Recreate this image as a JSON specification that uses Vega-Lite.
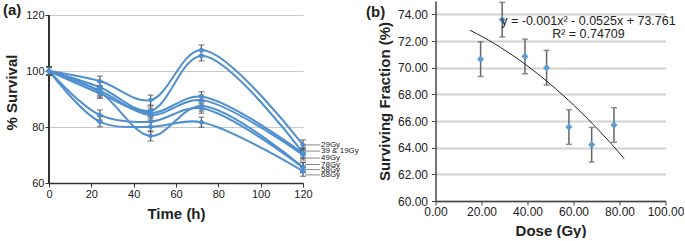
{
  "$schema": "https://vega.github.io/schema/vega-lite/v6.json",
  "background": "white",
  "padding": {"left": 3, "top": 1, "right": 0, "bottom": 0},
  "bounds": "flush",
  "spacing": 132.5,
  "config": {
    "font": "Liberation Sans",
    "view": {"stroke": null},
    "axis": {"labelFont": "Liberation Sans", "titleFont": "Liberation Sans", "labelColor": "#222", "titleColor": "#222", "titleFontWeight": "bold", "labelFlush": false, "labelOverlap": false}
  },
  "datasets": {
    "surv": [
      {"series": "29Gy", "time": 0, "value": 100, "err": 1.5},
      {"series": "29Gy", "time": 24, "value": 96.4, "err": 1.8},
      {"series": "29Gy", "time": 48, "value": 89.6, "err": 1.8},
      {"series": "29Gy", "time": 72, "value": 107.5, "err": 1.8},
      {"series": "29Gy", "time": 120, "value": 73.6, "err": 1.8},
      {"series": "39Gy", "time": 0, "value": 100, "err": 1.5},
      {"series": "39Gy", "time": 24, "value": 94.2, "err": 1.8},
      {"series": "39Gy", "time": 48, "value": 85.8, "err": 1.8},
      {"series": "39Gy", "time": 72, "value": 105.4, "err": 1.8},
      {"series": "39Gy", "time": 120, "value": 70.8, "err": 1.8},
      {"series": "19Gy", "time": 0, "value": 100, "err": 1.5},
      {"series": "19Gy", "time": 24, "value": 92.0, "err": 1.8},
      {"series": "19Gy", "time": 48, "value": 85.0, "err": 1.8},
      {"series": "19Gy", "time": 72, "value": 90.8, "err": 1.8},
      {"series": "19Gy", "time": 120, "value": 70.6, "err": 1.8},
      {"series": "49Gy", "time": 0, "value": 100, "err": 1.5},
      {"series": "49Gy", "time": 24, "value": 93.0, "err": 1.8},
      {"series": "49Gy", "time": 48, "value": 84.3, "err": 1.8},
      {"series": "49Gy", "time": 72, "value": 89.6, "err": 1.8},
      {"series": "49Gy", "time": 120, "value": 70.0, "err": 1.8},
      {"series": "78Gy", "time": 0, "value": 100, "err": 1.5},
      {"series": "78Gy", "time": 24, "value": 92.5, "err": 1.8},
      {"series": "78Gy", "time": 48, "value": 76.8, "err": 1.8},
      {"series": "78Gy", "time": 72, "value": 87.5, "err": 1.8},
      {"series": "78Gy", "time": 120, "value": 65.6, "err": 1.8},
      {"series": "58Gy", "time": 0, "value": 100, "err": 1.5},
      {"series": "58Gy", "time": 24, "value": 84.3, "err": 1.8},
      {"series": "58Gy", "time": 48, "value": 81.9, "err": 1.8},
      {"series": "58Gy", "time": 72, "value": 86.7, "err": 1.8},
      {"series": "58Gy", "time": 120, "value": 65.5, "err": 1.8},
      {"series": "68Gy", "time": 0, "value": 100, "err": 1.5},
      {"series": "68Gy", "time": 24, "value": 81.9, "err": 1.8},
      {"series": "68Gy", "time": 48, "value": 80.1, "err": 1.8},
      {"series": "68Gy", "time": 72, "value": 81.7, "err": 1.8},
      {"series": "68Gy", "time": 120, "value": 64.2, "err": 1.8}
    ],
    "labels": [
      {"label": "29Gy", "lx": 120, "ly": 73.6},
      {"label": "39 & 19Gy", "lx": 120, "ly": 71.4},
      {"label": "49Gy", "lx": 120, "ly": 68.9},
      {"label": "78Gy", "lx": 120, "ly": 66.6},
      {"label": "58Gy", "lx": 120, "ly": 64.8},
      {"label": "68Gy", "lx": 120, "ly": 62.9}
    ],
    "sf": [
      {"dose": 19.6, "sf": 70.64, "err": 1.3},
      {"dose": 29.0, "sf": 73.6, "err": 1.3},
      {"dose": 38.9, "sf": 70.84, "err": 1.3},
      {"dose": 48.3, "sf": 70.0, "err": 1.3},
      {"dose": 58.0, "sf": 65.55, "err": 1.3},
      {"dose": 67.9, "sf": 64.22, "err": 1.3},
      {"dose": 77.6, "sf": 65.7, "err": 1.3}
    ]
  },
  "hconcat": [
    {
      "width": 254,
      "height": 182,
      "data": {"name": "surv"},
      "encoding": {
        "x": {"field": "time", "type": "quantitative",
          "scale": {"domain": [0, 120], "nice": false, "zero": false},
          "axis": {"title": "Time (h)", "values": [0, 20, 40, 60, 80, 100, 120], "grid": false, "domainColor": "#333", "domainWidth": 1.5, "tickColor": "#333", "tickSize": 4, "labelPadding": 1, "labelFontSize": 11, "titleFontSize": 15, "titlePadding": 7}},
        "y": {"field": "value", "type": "quantitative",
          "scale": {"domain": [60, 125], "nice": false, "zero": false},
          "axis": {"title": "% Survival", "values": [60, 80, 100, 120], "grid": true, "gridColor": "#c8c8c8", "domain": false, "tickColor": "#333", "tickSize": 4, "labelPadding": 1, "labelFontSize": 11, "titleFontSize": 15, "titlePadding": 6}}
      },
      "layer": [
        {
          "mark": {"type": "rule", "color": "#333", "strokeWidth": 1.5},
          "encoding": {"x": {"datum": 0}, "y": {"datum": 60}, "y2": {"datum": 120}}
        },
        {
          "mark": {"type": "line", "interpolate": "catmull-rom", "strokeWidth": 2, "color": "#4f8fcf"},
          "encoding": {"detail": {"field": "series"}}
        },
        {
          "mark": {"type": "errorbar", "ticks": true, "color": "#555", "size": 6, "thickness": 1.2},
          "encoding": {"yError": {"field": "err"}}
        },
        {
          "mark": {"type": "point", "shape": "diamond", "filled": true, "size": 40, "color": "#4f8fcf", "opacity": 1}
        },
        {
          "data": {"name": "labels"},
          "mark": {"type": "rule", "color": "#888", "strokeWidth": 1, "xOffset": 2, "x2Offset": 17},
          "encoding": {"x": {"field": "lx", "type": "quantitative"}, "x2": {"field": "lx"}, "y": {"field": "ly", "type": "quantitative"}}
        },
        {
          "data": {"name": "labels"},
          "mark": {"type": "text", "align": "left", "baseline": "middle", "fontSize": 8, "color": "#222", "dx": 18},
          "encoding": {"x": {"field": "lx", "type": "quantitative"}, "y": {"field": "ly", "type": "quantitative"}, "text": {"field": "label"}}
        },
        {
          "data": {"values": [{"t": "(a)", "ax": 0, "ay": 121.8}]},
          "mark": {"type": "text", "align": "left", "baseline": "middle", "fontSize": 15, "fontWeight": "bold", "color": "#222", "dx": -46},
          "encoding": {"x": {"field": "ax", "type": "quantitative"}, "y": {"field": "ay", "type": "quantitative"}, "text": {"field": "t"}}
        }
      ]
    },
    {
      "width": 230,
      "height": 200,
      "data": {"name": "sf"},
      "encoding": {
        "x": {"field": "dose", "type": "quantitative",
          "scale": {"domain": [0, 100], "nice": false, "zero": false},
          "axis": {"title": "Dose (Gy)", "values": [0, 20, 40, 60, 80, 100], "format": ".2f", "grid": false, "domainColor": "#444", "domainWidth": 1.5, "tickColor": "#444", "tickSize": 4, "labelPadding": 1, "labelFontSize": 12, "titleFontSize": 15, "titlePadding": 6}},
        "y": {"field": "sf", "type": "quantitative",
          "scale": {"domain": [60, 75], "nice": false, "zero": false},
          "axis": {"title": "Surviving Fraction (%)", "values": [60, 62, 64, 66, 68, 70, 72, 74], "format": ".2f", "grid": true, "gridColor": "#d2d2d2", "gridWidth": 2, "domainColor": "#444", "domainWidth": 1.5, "tickColor": "#444", "tickSize": 4, "labelPadding": 4, "labelFontSize": 12, "titleFontSize": 15, "titlePadding": 5}}
      },
      "layer": [
        {
          "mark": {"type": "errorbar", "ticks": true, "color": "#666", "size": 6, "thickness": 1.5},
          "encoding": {"yError": {"field": "err"}}
        },
        {
          "mark": {"type": "point", "shape": "diamond", "filled": true, "size": 50, "color": "#5b9bd5", "opacity": 1}
        },
        {
          "transform": [{"regression": "sf", "on": "dose", "method": "poly", "order": 2, "extent": [15, 82]}],
          "mark": {"type": "line", "color": "#222", "strokeWidth": 1}
        },
        {
          "data": {"values": [{"t": "y = -0.001x² - 0.0525x + 73.761", "ex": 66.5, "ey": 73.52}, {"t": "R² = 0.74709", "ex": 66.5, "ey": 72.56}]},
          "mark": {"type": "text", "align": "center", "baseline": "middle", "fontSize": 12.5, "color": "#222"},
          "encoding": {"x": {"field": "ex", "type": "quantitative"}, "y": {"field": "ey", "type": "quantitative"}, "text": {"field": "t"}}
        },
        {
          "data": {"values": [{"t": "(b)", "bx": 0, "by": 74.18}]},
          "mark": {"type": "text", "align": "left", "baseline": "middle", "fontSize": 15, "fontWeight": "bold", "color": "#222", "dx": -69.5},
          "encoding": {"x": {"field": "bx", "type": "quantitative"}, "y": {"field": "by", "type": "quantitative"}, "text": {"field": "t"}}
        }
      ]
    }
  ]
}
